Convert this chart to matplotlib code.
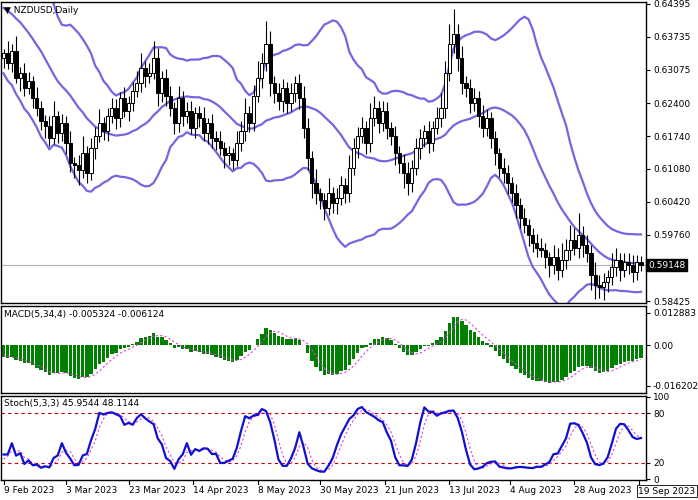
import numpy as np
import pandas as pd
import matplotlib
matplotlib.use("Agg")
import matplotlib.pyplot as plt
from matplotlib.patches import Rectangle

# ---- data ----
warmup_close = [0.632,0.635,0.630,0.628,0.633, 0.636,0.630,0.634,0.637,0.639,
                0.640,0.642,0.645,0.644,0.640, 0.638,0.645,0.646,0.647,0.645,
                0.648,0.650,0.649,0.648,0.646, 0.650,0.648,0.652,0.646,0.640,
                0.633,0.632,0.636,0.635,0.633]
close = [0.6340,0.6320,0.6345,0.6290,0.6300,0.6270,0.6285,0.6250,0.6230,0.6205,
         0.6195,0.6170,0.6215,0.6180,0.6200,0.6160,0.6120,0.6115,0.6105,0.6140,
         0.6100,0.6150,0.6175,0.6200,0.6185,0.6215,0.6230,0.6210,0.6250,0.6225,
         0.6240,0.6265,0.6280,0.6310,0.6295,0.6300,0.6330,0.6260,0.6290,0.6255,
         0.6230,0.6200,0.6250,0.6215,0.6225,0.6190,0.6220,0.6210,0.6180,0.6200,
         0.6170,0.6165,0.6150,0.6135,0.6140,0.6125,0.6160,0.6185,0.6220,0.6200,
         0.6255,0.6290,0.6320,0.6360,0.6280,0.6260,0.6245,0.6270,0.6240,0.6260,
         0.6280,0.6250,0.6190,0.6130,0.6080,0.6060,0.6045,0.6030,0.6060,0.6040,
         0.6050,0.6075,0.6060,0.6110,0.6150,0.6175,0.6190,0.6160,0.6210,0.6230,
         0.6200,0.6225,0.6190,0.6175,0.6140,0.6120,0.6100,0.6080,0.6110,0.6150,
         0.6170,0.6185,0.6160,0.6190,0.6210,0.6230,0.6300,0.6360,0.6380,0.6330,
         0.6280,0.6270,0.6240,0.6250,0.6215,0.6190,0.6210,0.6170,0.6140,0.6110,
         0.6100,0.6080,0.6060,0.6035,0.6010,0.5995,0.5975,0.5960,0.5950,0.5945,
         0.5930,0.5915,0.5930,0.5905,0.5925,0.5945,0.5965,0.5950,0.5975,0.5955,
         0.5940,0.5895,0.5875,0.5870,0.5880,0.5890,0.5910,0.5925,0.5905,0.5920,
         0.5915,0.5900,0.5920,0.5915]
hi_pips = [10,25,15,30,12,20,18,10,22,15, 12,20,30,10,18,14,25,12,20,35,
           15,20,18,28,12,15,20,18,12,22, 14,18,25,30,15,20,35,22,15,18,
           20,12,25,15,18,20,12,15,22,10, 18,14,20,12,15,10,25,20,30,15,
           22,35,20,45,25,15,20,18,12,20, 15,18,25,20,15,28,10,15,30,12,
           20,18,15,25,20,18,22,15,30,25, 15,20,18,12,20,15,18,22,15,20,
           18,12,20,15,22,30,25,40,50,20, 25,15,18,20,15,22,18,12,15,10,
           20,15,12,18,15,20,12,15,18,20, 15,12,25,20,35,22,30,25,45,18,
           20,15,25,20,18,15,30,25,15,20, 18,20,15,12]
lo_pips = [20,12,18,10,25,15,12,20,15,18, 25,15,12,20,15,22,18,25,30,15,
           20,15,22,12,18,20,15,22,18,12, 20,15,12,18,22,15,12,25,18,20,
           15,22,18,20,15,12,20,18,15,22, 20,18,15,25,20,18,12,15,20,18,
           15,12,20,15,25,20,18,22,20,15, 18,22,20,25,30,22,18,25,15,20,
           22,15,20,18,15,20,15,22,18,15, 20,15,22,18,25,20,30,25,18,15,
           22,18,20,15,12,18,20,15,20,25, 22,18,20,15,22,18,15,20,25,18,
           20,22,18,25,20,15,22,18,20,15, 22,25,18,20,15,18,20,15,22,25,
           20,30,28,22,25,20,15,18,22,15, 18,20,15,12]
price_ticks = [0.64395,0.63735,0.63075,0.62400,0.61740,0.61080,0.60420,0.59760,0.58425]
last_price = 0.59148
macd_ticks = [0.012883, 0.0, -0.016202]
macd_tick_labels = ["0.012883", "0.00", "-0.016202"]
stoch_ticks = [100, 80, 20, 0]
macd_title = "MACD(5,34,4) -0.005324 -0.006124"
stoch_title = "Stoch(5,3,3) 45.9544 48.1144"
date_labels = ["9 Feb 2023","3 Mar 2023","23 Mar 2023","14 Apr 2023","8 May 2023","30 May 2023",
               "21 Jun 2023","13 Jul 2023","4 Aug 2023","28 Aug 2023","19 Sep 2023"]
date_pos = [0, 15, 30, 45.5, 61, 76, 91.6, 107, 121.5, 137, 152.6]

# ---- computations ----
allc = np.array(warmup_close + close)
allo = np.r_[allc[0], allc[:-1]]
nw = len(warmup_close)
n = len(close)
c = allc[nw:]; o = allo[nw:]
h = np.maximum(o, c) + np.array(hi_pips) * 1e-4
l = np.minimum(o, c) - np.array(lo_pips) * 1e-4
allh = np.r_[np.maximum(allo[:nw], allc[:nw]) + 0.0015, h]
alll = np.r_[np.minimum(allo[:nw], allc[:nw]) - 0.0015, l]
s = pd.Series(allc)
mid = s.rolling(20).mean(); sd = s.rolling(20).std(ddof=0)
up = (mid + 2 * sd).values[nw:]; lo = (mid - 2 * sd).values[nw:]; mid = mid.values[nw:]
macd = (s.ewm(span=5, adjust=False).mean() - s.ewm(span=34, adjust=False).mean())
sig = macd.rolling(4).mean()
macd = macd.values[nw:]; sig = sig.values[nw:]
H = pd.Series(allh).rolling(5).max(); L = pd.Series(alll).rolling(5).min()
num = (s - L).rolling(3).sum(); den = (H - L).rolling(3).sum()
K = 100 * num / den; D = K.rolling(3).mean()
K = K.values[nw:]; D = D.values[nw:]
x = np.arange(n)

# ---- figure ----
fig = plt.figure(figsize=(6.98, 5.0), dpi=100)
plt.rcParams['font.family'] = 'DejaVu Sans'
fs = 6.5
L0, W = 0.0015, 0.924
ax1 = fig.add_axes([L0, 0.394, W, 0.602])
ax2 = fig.add_axes([L0, 0.214, W, 0.174])
ax3 = fig.add_axes([L0, 0.040, W, 0.168])
xl = (-0.6, 154.2)
for ax in (ax1, ax2, ax3):
    ax.set_xlim(*xl)
    ax.yaxis.tick_right()
    ax.tick_params(axis='y', labelsize=fs, length=3, pad=2)
    ax.set_xticks([])
    for sp in ax.spines.values():
        sp.set_linewidth(1.0)

# candles
for i in x:
    ax1.vlines(i, l[i], h[i], color='black', lw=0.8, zorder=2)
    bot = min(o[i], c[i]); ht = max(abs(c[i] - o[i]), 0.00005)
    fc = 'white' if c[i] >= o[i] else 'black'
    ax1.add_patch(Rectangle((i - 0.38, bot), 0.76, ht, facecolor=fc, edgecolor='black', lw=0.7, zorder=3))
bc = '#7466e0'
ax1.plot(x, up, color=bc, lw=1.6, zorder=1)
ax1.plot(x, mid, color=bc, lw=1.6, zorder=1)
ax1.plot(x, lo, color=bc, lw=1.6, zorder=1)
ax1.axhline(last_price, color='#b0b0b0', lw=0.8, zorder=0)
ax1.set_ylim(0.58385, 0.64435)
ax1.set_yticks(price_ticks)
ax1.set_yticklabels([f"{v:.5f}" for v in price_ticks])
ax1.text(1.003, (last_price - 0.58385) / (0.64435 - 0.58385), f"{last_price:.5f}", transform=ax1.transAxes,
         fontsize=fs, color='white', va='center', ha='left',
         bbox=dict(boxstyle='square,pad=0.2', fc='black', ec='black'))
ax1.text(0.004, 0.988, "\u25BC NZDUSD,Daily", transform=ax1.transAxes, fontsize=fs, va='top')

# MACD
ax2.bar(x, macd, width=0.8, color='#008000', zorder=2)
ax2.plot(x, sig, color='#e040e0', lw=0.8, ls=(0, (2, 2)), zorder=3)
ax2.set_ylim(-0.019, 0.01567)
ax2.set_yticks(macd_ticks); ax2.set_yticklabels(macd_tick_labels)
ax2.text(0.004, 0.95, macd_title, transform=ax2.transAxes, fontsize=fs, va='top')

# Stoch
ax3.axhline(80, color='#c00000', lw=0.8, ls=(0, (3, 3)))
ax3.axhline(20, color='#c00000', lw=0.8, ls=(0, (3, 3)))
ax3.plot(x, D, color='#e040e0', lw=0.8, ls=(0, (2, 2)), zorder=2)
ax3.plot(x, K, color='#1010d0', lw=1.6, zorder=3)
ax3.set_ylim(-1, 101)
ax3.set_yticks(stoch_ticks)
ax3.text(0.004, 0.96, stoch_title, transform=ax3.transAxes, fontsize=fs, va='top')

for lab, p in zip(date_labels, date_pos):
    ax3.plot([p, p], [-1, -6], color='black', lw=0.8, clip_on=False)
    if lab == date_labels[-1]:
        fig.text(0.996, 0.018, lab, fontsize=fs, ha='right', va='center',
                 bbox=dict(boxstyle='square,pad=0.15', fc='white', ec='black', lw=0.6))
    else:
        ax3.text(p, -8, lab, fontsize=fs, ha='left', va='top', clip_on=False)

fig.savefig("out.png", dpi=100)
